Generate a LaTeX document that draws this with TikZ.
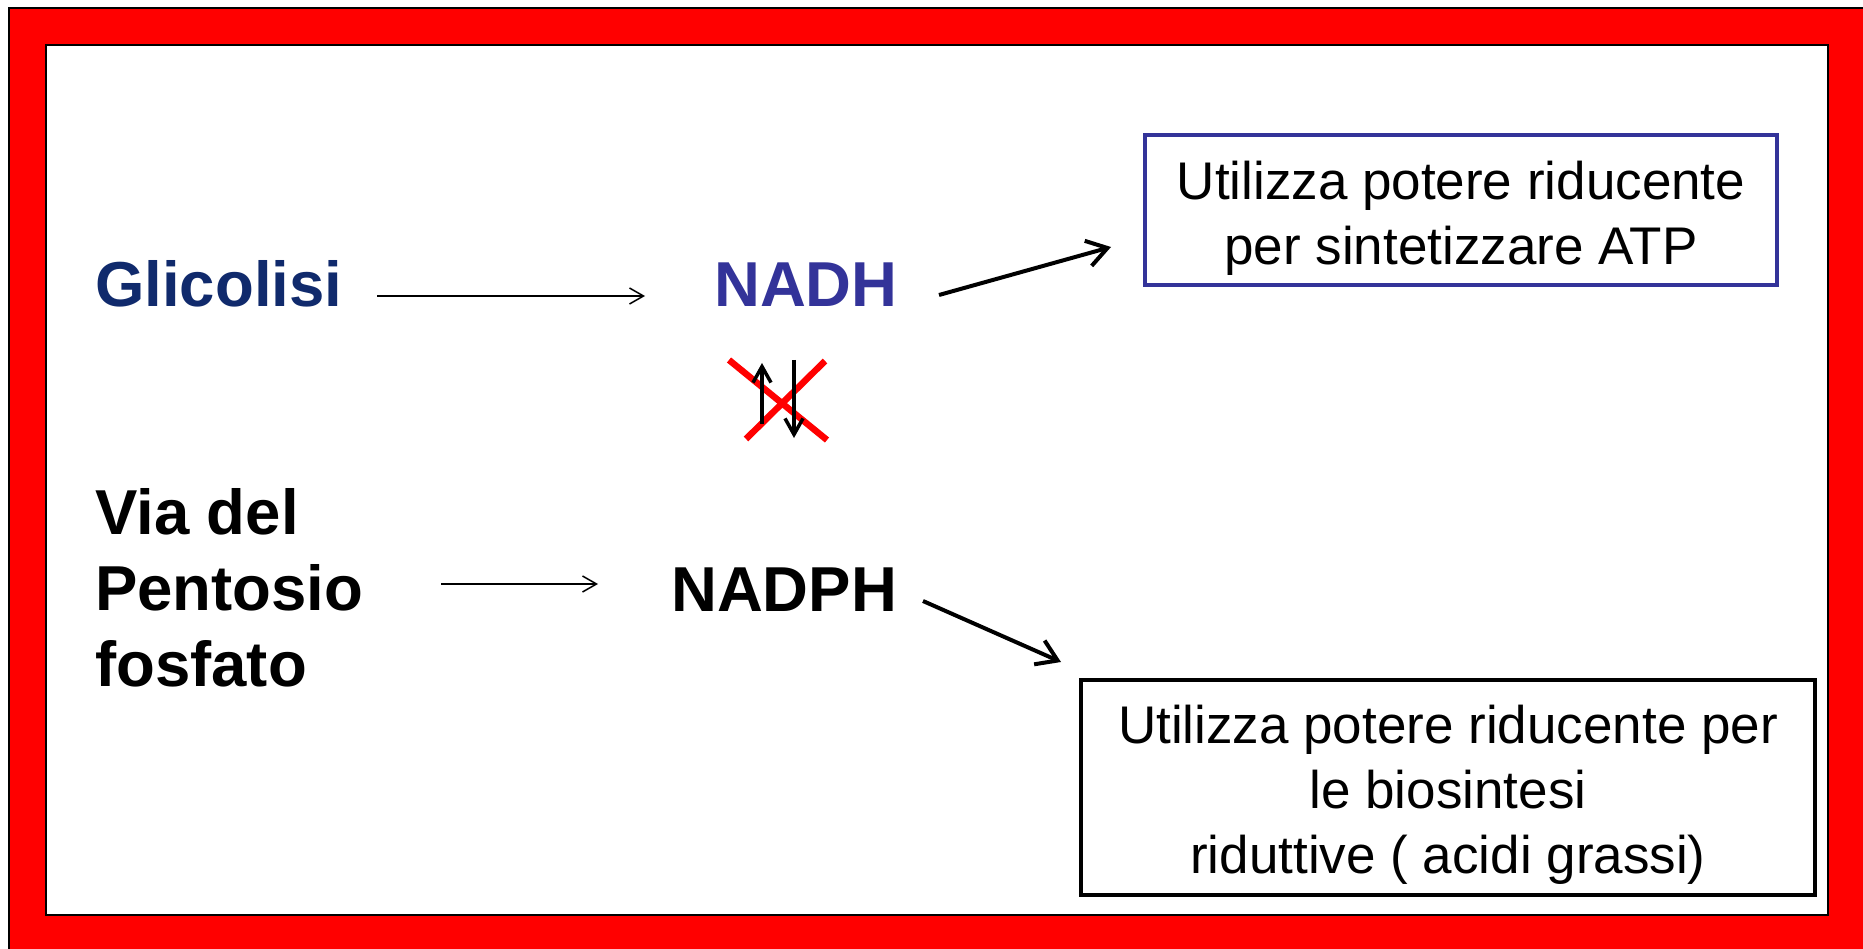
\documentclass[tikz,border=0pt]{standalone}
\usepackage{fontspec}
\setmainfont{Liberation Sans}
\usetikzlibrary{arrows.meta}
\definecolor{navy}{HTML}{102A6C}
\definecolor{nadh}{HTML}{333399}
\begin{document}
\begin{tikzpicture}[x=1pt,y=-1pt,
  big/.style={font=\fontsize{63.5}{76}\selectfont\bfseries, inner sep=0pt},
  small/.style={font=\fontsize{53}{65}\selectfont, align=center},
  thinarrow/.style={line width=1.5pt, -{Straight Barb[length=14pt,width=16pt]}},
  thickarrow/.style={line width=4pt, -{Straight Barb[length=20pt,width=26pt]}},
  updown/.style={line width=3.5pt, -{Straight Barb[length=16pt,width=18pt]}},
  cross/.style={draw=red, line width=6.5pt, blend mode=multiply}]
\useasboundingbox (0,0) rectangle (1863,949);
\fill[white] (0,0) rectangle (1863,949);
\filldraw[fill=red, draw=black, line width=1.5pt] (9,8) rectangle (1866,952);
\filldraw[fill=white, draw=black, line width=2pt] (46,45) rectangle (1828,915);

\node[big, text=navy, anchor=base west] (glic) at (95,307) {Glicolisi};
\node[big, text=nadh, anchor=base west] (nadh) at (714,307) {NADH};
\node[big, anchor=base west] (nadph) at (671,611) {NADPH};
\node[big, align=left, anchor=north west] (via) at (95,488) {Via del\\Pentosio\\fosfato};

\node[draw=nadh, line width=3.5pt, minimum width=632pt, minimum height=150pt] (box1) at (1461,210) {};
\node[small] (t1) at ([yshift=-8pt]box1.center) {Utilizza potere riducente\\per sintetizzare ATP};
\node[draw=black, line width=4.5pt, minimum width=734pt, minimum height=215pt] (box2) at (1448,787.5) {};
\node[small] (t2) at ([yshift=-7pt]box2.center) {Utilizza potere riducente per\\le biosintesi\\riduttive ( acidi grassi)};

\coordinate (g1) at (377,296);
\coordinate (g2) at (645,296);
\coordinate (p1) at (441,584);
\coordinate (p2) at (598,584);
\coordinate (n1) at (939,295);
\coordinate (n2) at (1111,247);
\coordinate (q1) at (923,601);
\coordinate (q2) at (1061,662);
\draw[thinarrow] (g1) -- (g2);
\draw[thinarrow] (p1) -- (p2);
\draw[thickarrow] (n1) -- (n2);
\draw[thickarrow] (q1) -- (q2);

\coordinate (u1) at (762,424);
\coordinate (u2) at (762,363);
\coordinate (d1) at (794,360);
\coordinate (d2) at (794,438);
\draw[updown] (u1) -- (u2);
\draw[updown] (d1) -- (d2);
\coordinate (x1) at (729,360);
\coordinate (x2) at (827,440);
\coordinate (x3) at (825,361);
\coordinate (x4) at (746,439);
\draw[cross] (x1) -- (x2);
\draw[cross] (x3) -- (x4);
\end{tikzpicture}
\end{document}
